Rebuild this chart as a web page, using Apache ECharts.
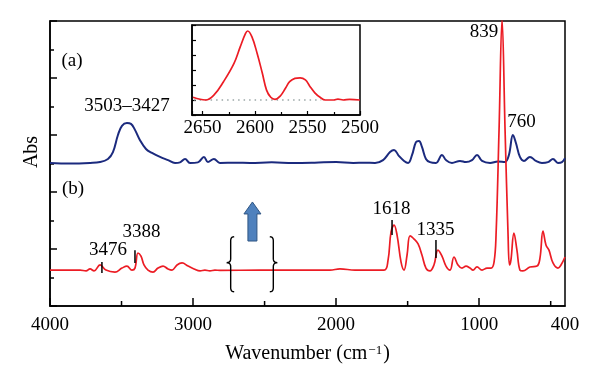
<!DOCTYPE html>
<html><head><meta charset="utf-8">
<script src="https://cdn.jsdelivr.net/npm/echarts@6/dist/echarts.min.js"></script>
<style>html,body{margin:0;padding:0;background:#fff}#c{width:600px;height:387px}</style>
</head><body><div id="c"></div>
<script>
// ---- data ----
const xTickLabels = [4000, 3000, 2000, 1000, 400];
const xMajorTicks = [4000, 3000, 2000, 1000];
const xMinorTicks = [3500, 2500, 1500, 500];

const blueWn  = [4000,3860,3720,3650,3595,3560,3525,3497,3462,3434,3406,3371,3329,3287,3231,3175,3126,3091,3056,3021,2966,2924,2896,2854,2812,2700,2602,2450,2300,2150,2000,1880,1800,1728,1672,1623,1595,1560,1525,1497,1469,1442,1421,1400,1372,1344,1302,1260,1232,1190,1134,1092,1050,1015,980,924,869,820,792,764,743,715,687,645,603,561,519,484,449,421,400];
const blueAbs = [5.02,5.00,5.02,5.05,5.16,5.40,6.00,6.32,6.42,6.39,6.18,5.82,5.51,5.37,5.23,5.12,5.02,5.04,5.16,5.02,5.04,5.23,5.05,5.16,5.02,5.03,5.02,5.04,5.02,5.03,5.05,5.02,5.03,5.02,5.12,5.40,5.47,5.26,5.09,5.02,5.30,5.75,5.79,5.58,5.16,5.05,5.02,5.30,5.12,5.02,5.09,5.05,5.12,5.30,5.09,5.02,5.07,5.05,5.30,6.00,5.72,5.23,5.09,5.23,5.09,5.02,5.05,5.16,5.02,5.05,5.19];

const redWn  = [4000,3895,3790,3748,3720,3692,3650,3609,3546,3497,3462,3427,3406,3385,3364,3343,3315,3280,3245,3210,3175,3147,3112,3077,3035,2993,2951,2917,2882,2847,2812,2532,2252,2043,1973,1868,1665,1637,1616,1595,1574,1546,1525,1504,1483,1455,1427,1400,1372,1344,1316,1288,1260,1232,1204,1176,1148,1120,1092,1064,1043,1015,980,945,917,896,882,861,840,819,798,788,778,757,736,715,694,645,596,575,554,533,512,484,449,428,400];
const redAbs = [1.26,1.26,1.26,1.23,1.30,1.23,1.44,1.26,1.19,1.33,1.40,1.26,1.33,1.86,1.75,1.44,1.26,1.19,1.33,1.40,1.30,1.26,1.44,1.51,1.40,1.30,1.23,1.26,1.23,1.26,1.25,1.26,1.26,1.26,1.30,1.26,1.26,1.61,2.60,2.84,2.49,1.54,1.26,1.79,2.46,2.35,2.18,1.79,1.33,1.23,1.44,1.96,1.75,1.40,1.26,1.72,1.44,1.33,1.40,1.33,1.26,1.37,1.26,1.33,1.33,1.54,2.49,6.18,10.05,6.18,2.49,1.44,1.61,2.56,1.96,1.26,1.23,1.37,1.40,1.68,2.63,2.14,1.96,1.51,1.33,1.44,1.72];

const insetWn  = [2659,2647,2639,2630,2620,2614,2609,2607,2603,2598,2593,2589,2585,2581,2576,2571,2567,2562,2557,2552,2548,2543,2538,2533,2525,2521,2516,2510,2500];
const insetAbs = [0.09,0.00,0.17,0.61,1.22,1.78,2.22,2.30,2.11,1.56,0.89,0.33,0.09,0.02,0.13,0.39,0.61,0.72,0.74,0.67,0.47,0.24,0.09,0.00,0.00,0.03,0.00,0.02,0.00];
const baseWn  = [2658, 2537];
const baseAbs = [0, 0];

// annotations in data coordinates (wavenumber, abs)
const labelTexts = ['(a)', '(b)', '3503–3427', '839', '760', '3476', '3388', '1618', '1335'];
const labelWn    = [3846, 3839, 3462, 966, 704, 3595, 3360, 1613, 1305];
const labelAbs   = [8.58, 4.09, 7.00, 9.63, 6.47, 1.96, 2.61, 3.42, 2.67];
const markWn   = [3637, 3406, 1609, 1302];
const markFrom = [1.16, 1.51, 2.49, 1.68];
const markTo   = [1.54, 1.96, 3.02, 2.32];

const zip = (a, b) => a.map((v, i) => [v, b[i]]);
const FONT = 'Liberation Serif';
const FS = 19;
const BLACK = '#000';
const plain = v => String(v);
const axisLine = {show: true, onZero: false, lineStyle: {color: BLACK, width: 1.5}};

const chart = echarts.init(document.getElementById('c'), null, {renderer: 'canvas'});
chart.setOption({
  animation: false,
  backgroundColor: '#fff',
  textStyle: {fontFamily: FONT},
  grid: [
    {left: 50, top: 21, width: 515, height: 285, show: true, borderColor: BLACK, borderWidth: 1.5},
    {left: 192, top: 25, width: 168, height: 90, show: true, borderColor: BLACK, borderWidth: 1.5, backgroundColor: '#fff'}
  ],
  xAxis: [
    {gridIndex: 0, type: 'value', inverse: true, min: 400, max: 4000, position: 'bottom',
     axisLine: axisLine,
     axisTick: {inside: true, length: 8, customValues: xMajorTicks, lineStyle: {color: BLACK, width: 1.5}},
     axisLabel: {customValues: xTickLabels, formatter: plain, fontSize: FS, color: BLACK, margin: 10, fontFamily: FONT},
     splitLine: {show: false},
     name: 'Wavenumber (cm{sup|−1})', nameLocation: 'middle', nameGap: 38,
     nameTextStyle: {fontSize: 20, color: BLACK, fontFamily: FONT,
       rich: {sup: {fontSize: 13, fontFamily: FONT, color: BLACK, verticalAlign: 'top', padding: [0, 1, 6, 1]}}}},
    {gridIndex: 1, type: 'value', inverse: true, min: 2500, max: 2660, interval: 50,
     axisLine: axisLine,
     axisTick: {inside: true, length: 4, lineStyle: {color: BLACK, width: 1.2}},
     minorTick: {show: true, splitNumber: 2, length: 3, lineStyle: {color: BLACK, width: 1.2}},
     axisLabel: {formatter: plain, fontSize: FS, color: BLACK, margin: 4, fontFamily: FONT, showMaxLabel: false, showMinLabel: true},
     splitLine: {show: false}, minorSplitLine: {show: false}}
  ],
  yAxis: [
    {gridIndex: 0, type: 'value', min: 0, max: 10, interval: 2,
     axisLine: axisLine,
     axisTick: {inside: true, length: 7, lineStyle: {color: BLACK, width: 1.5}},
     minorTick: {show: true, splitNumber: 2, length: 4, lineStyle: {color: BLACK, width: 1.5}},
     axisLabel: {show: false}, splitLine: {show: false}, minorSplitLine: {show: false}},
    {gridIndex: 1, type: 'value', min: -0.5, max: 2.5, interval: 0.5,
     axisLine: axisLine,
     axisTick: {inside: true, length: 4, lineStyle: {color: BLACK, width: 1.2}},
     axisLabel: {show: false}, splitLine: {show: false}}
  ],
  series: [
    {name: 'a', type: 'line', xAxisIndex: 0, yAxisIndex: 0, data: zip(blueWn, blueAbs),
     showSymbol: false, smooth: 0.4, lineStyle: {color: '#1b2a7e', width: 2}, z: 3},
    {name: 'b', type: 'line', xAxisIndex: 0, yAxisIndex: 0, data: zip(redWn, redAbs),
     showSymbol: false, smooth: 0.4, lineStyle: {color: '#ec1c24', width: 1.7}, z: 3},
    {name: 'inset', type: 'line', xAxisIndex: 1, yAxisIndex: 1, data: zip(insetWn, insetAbs),
     showSymbol: false, smooth: 0.4, lineStyle: {color: '#ec1c24', width: 1.7}, z: 4},
    {name: 'base', type: 'line', xAxisIndex: 1, yAxisIndex: 1, data: zip(baseWn, baseAbs),
     showSymbol: false, lineStyle: {color: '#9aa6a6', width: 1.5, type: [1.5, 4]}, z: 3}
  ]
});

const P = (wn, v) => chart.convertToPixel({seriesIndex: 0}, [wn, v]);
const elements = [];
// minor ticks of the main wavenumber axis
xMinorTicks.forEach(w => {
  const p = P(w, 0);
  elements.push({type: 'line', z: 10, shape: {x1: p[0], y1: p[1], x2: p[0], y2: p[1] - 5},
    style: {stroke: BLACK, lineWidth: 1.5}});
});
labelTexts.forEach((t, i) => {
  const p = P(labelWn[i], labelAbs[i]);
  elements.push({type: 'text', x: p[0], y: p[1], z: 10,
    style: {text: t, fontSize: FS, fontFamily: FONT, fill: BLACK, align: 'center', verticalAlign: 'middle',
            textAlign: 'center', textVerticalAlign: 'middle'}});
});
markWn.forEach((w, i) => {
  const a = P(w, markFrom[i]), b = P(w, markTo[i]);
  elements.push({type: 'line', z: 10, shape: {x1: a[0], y1: a[1], x2: b[0], y2: b[1]},
    style: {stroke: BLACK, lineWidth: 1.5}});
});
// braces around the inset region, sampled as polylines
const bTop = 2.43, bBot = 0.50, bMid = 1.52;
function quad(p0, c, p1, n) {
  const out = [];
  for (let k = 1; k <= n; k++) {
    const t = k / n, u = 1 - t;
    out.push([u * u * p0[0] + 2 * u * t * c[0] + t * t * p1[0], u * u * p0[1] + 2 * u * t * c[1] + t * t * p1[1]]);
  }
  return out;
}
function brace(wn, dir) {
  const t = P(wn, bTop), b = P(wn, bBot), m = P(wn, bMid);
  const x = t[0], y1 = t[1], y2 = b[1], ym = m[1], h = 3.5 * dir, c = -4 * dir;
  let pts = [[x + h, y1]];
  pts = pts.concat(quad([x + h, y1], [x, y1], [x, y1 + 4], 6));
  pts.push([x, ym - 4]);
  pts = pts.concat(quad([x, ym - 4], [x, ym], [x + c, ym], 6));
  pts = pts.concat(quad([x + c, ym], [x, ym], [x, ym + 4], 6));
  pts.push([x, y2 - 4]);
  pts = pts.concat(quad([x, y2 - 4], [x, y2], [x + h, y2], 6));
  return pts;
}
[[2737, 1], [2439, -1]].forEach(([w, d]) => {
  elements.push({type: 'polyline', z: 10, shape: {points: brace(w, d)}, style: {stroke: BLACK, fill: null, lineWidth: 1.4}});
});
// up arrow
const tip = P(2585, 3.65), hb = P(2585, 3.23), ab = P(2585, 2.28);
const cx = tip[0];
elements.push({type: 'polygon', z: 10, shape: {points: [
  [cx, tip[1]], [cx + 8.5, hb[1]], [cx + 4.5, hb[1]], [cx + 4.5, ab[1]],
  [cx - 4.5, ab[1]], [cx - 4.5, hb[1]], [cx - 8.5, hb[1]]]},
  style: {fill: '#4f81bd', stroke: '#2f5583', lineWidth: 1}});
// y-axis name
elements.push({type: 'text', x: 32, y: 152, rotation: Math.PI / 2, z: 10,
  style: {text: 'Abs', fontSize: 20, fontFamily: FONT, fill: BLACK, align: 'center', verticalAlign: 'middle',
          textAlign: 'center', textVerticalAlign: 'middle'}});
chart.setOption({graphic: {elements: elements}});
</script>
</body></html>
